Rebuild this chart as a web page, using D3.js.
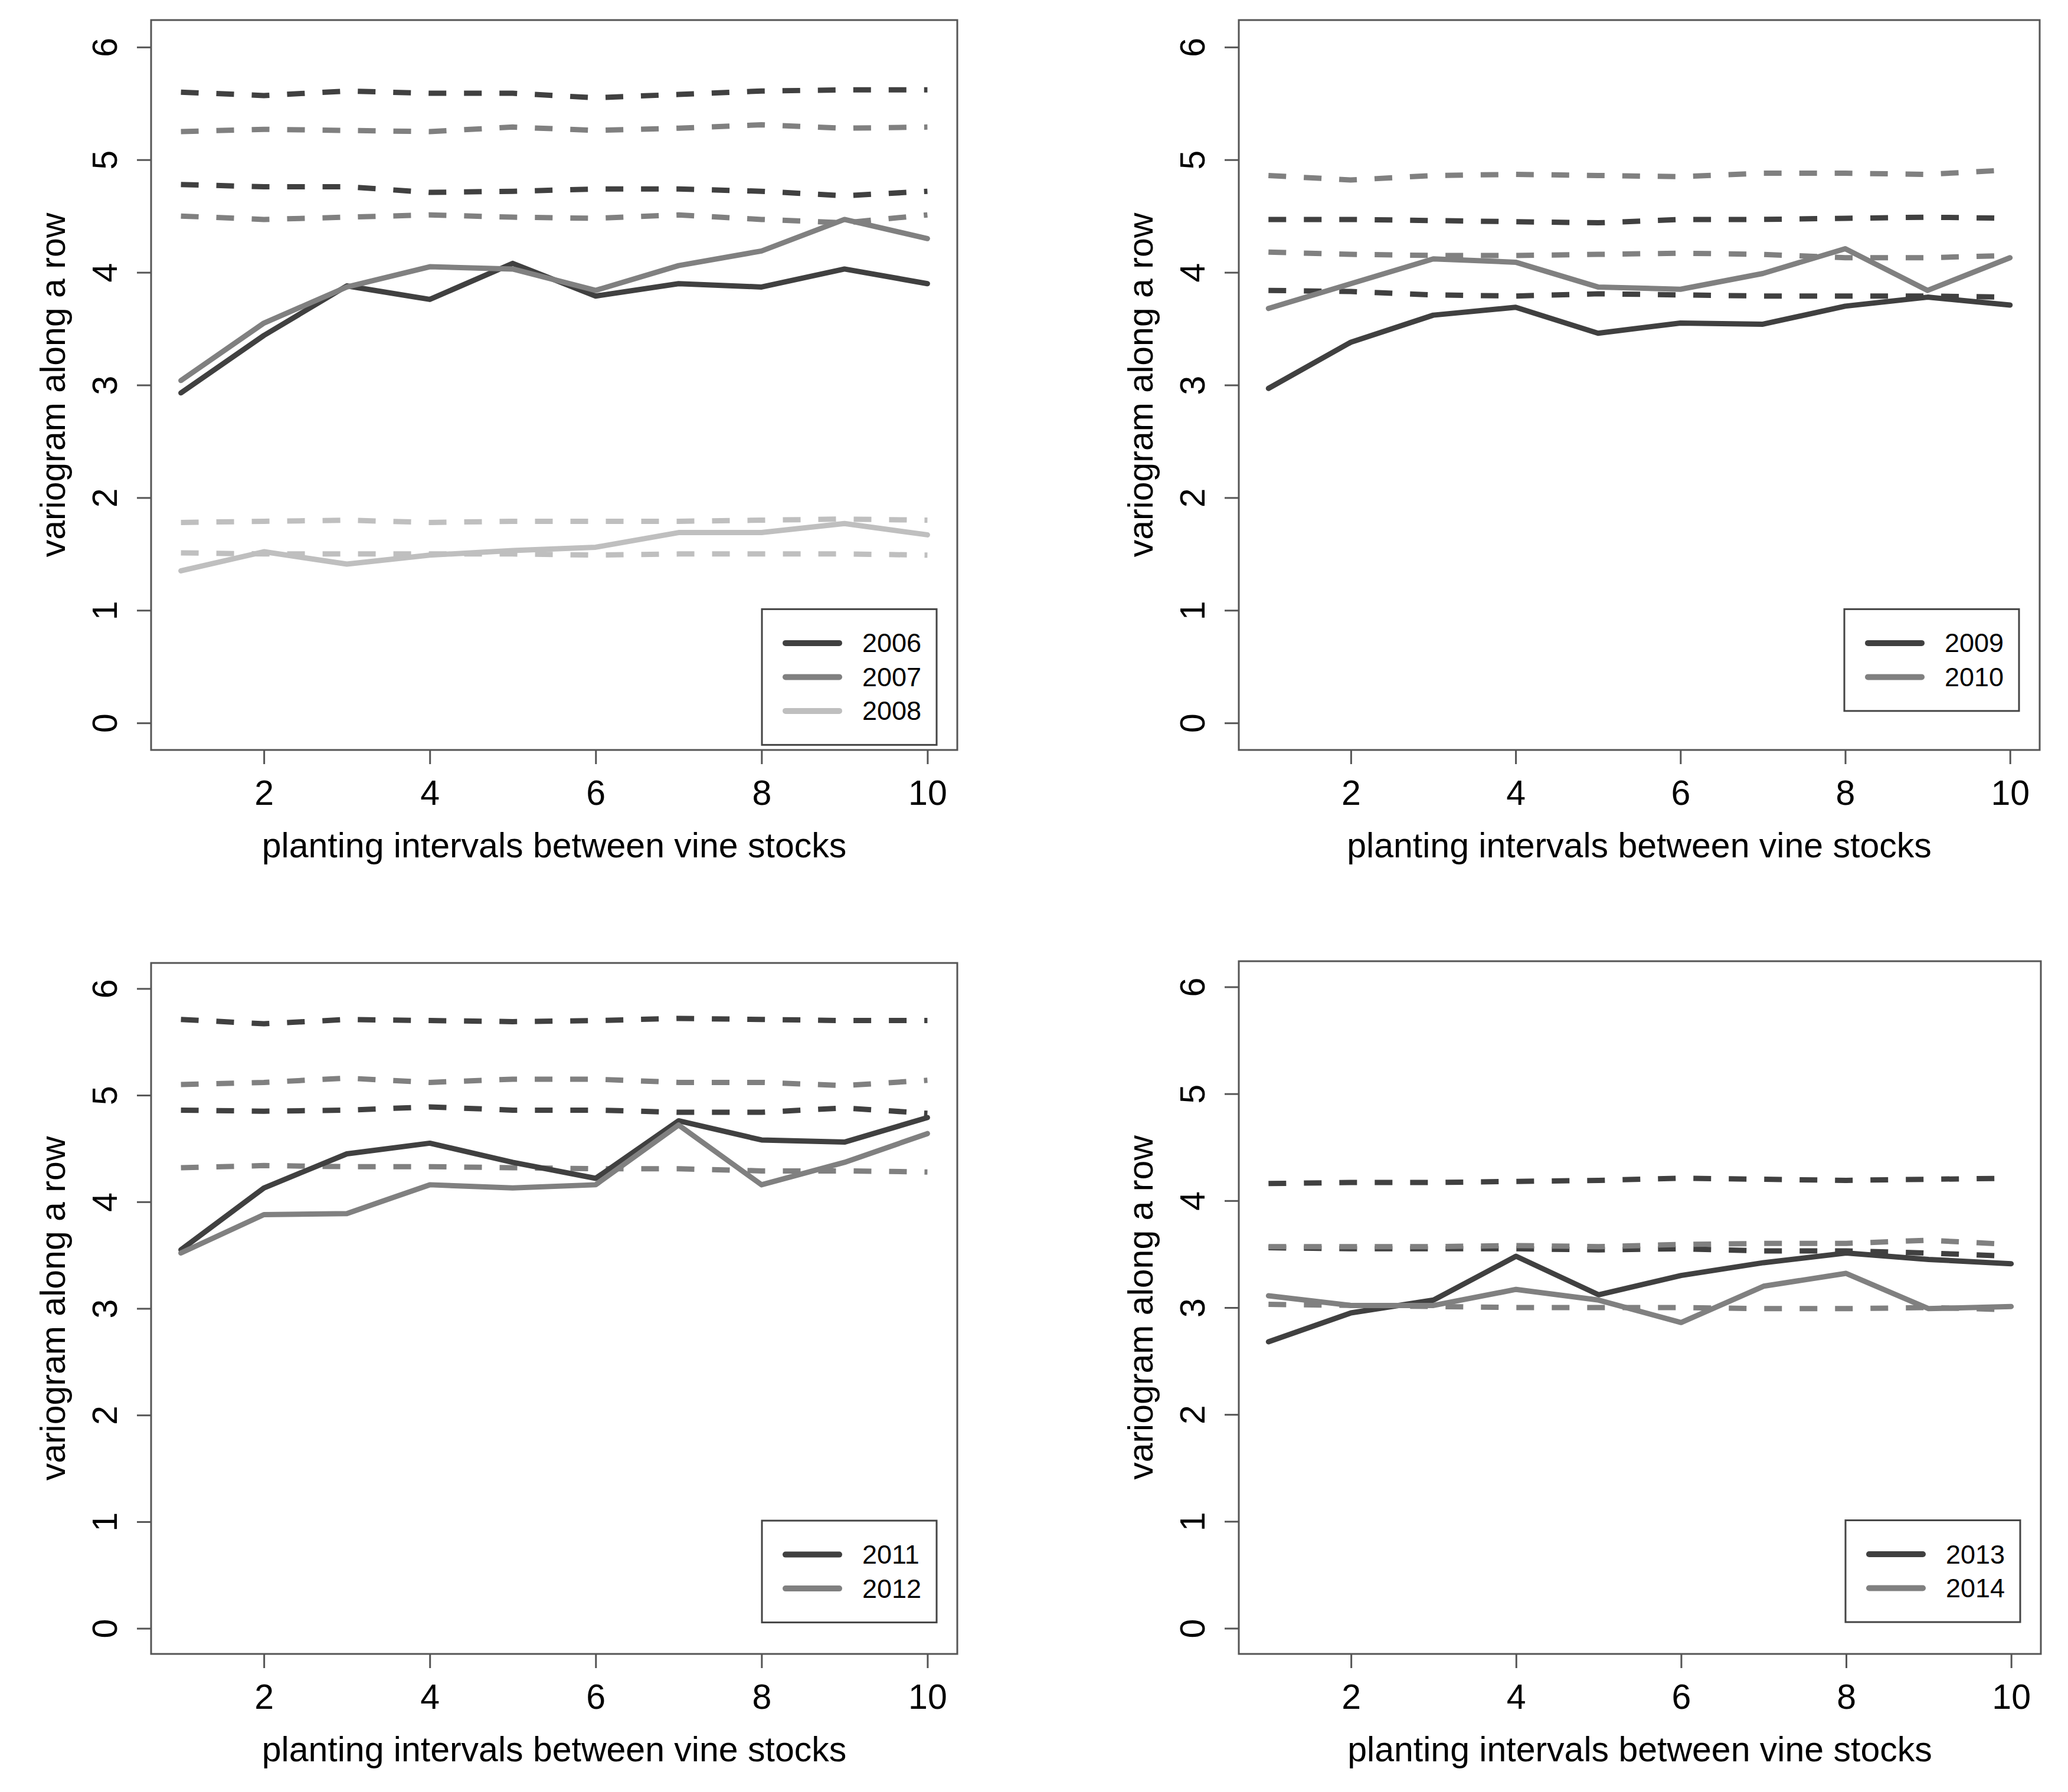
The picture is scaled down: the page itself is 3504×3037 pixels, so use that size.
<!DOCTYPE html>
<html>
<head>
<meta charset="utf-8">
<script src="https://cdn.jsdelivr.net/npm/d3@7"></script>
<style>
  body { margin: 0; background: #fff; }
  text { font-family: "Liberation Sans", Arial, sans-serif; fill: #000; }
</style>
</head>
<body>
<script>
var width = 3504, height = 3037;

// lags (planting intervals) and axis ticks
var lags = [1, 2, 3, 4, 5, 6, 7, 8, 9, 10];
var xTicks = [2, 4, 6, 8, 10];
var yTicks = [0, 1, 2, 3, 4, 5, 6];

var v2006  = [2.93, 3.44, 3.88, 3.76, 4.08, 3.79, 3.90, 3.87, 4.03, 3.90];
var hi2006 = [5.60, 5.57, 5.61, 5.59, 5.59, 5.55, 5.58, 5.61, 5.62, 5.62];
var lo2006 = [4.78, 4.76, 4.76, 4.71, 4.72, 4.74, 4.74, 4.72, 4.68, 4.72];

var v2007  = [3.04, 3.55, 3.87, 4.05, 4.03, 3.84, 4.06, 4.19, 4.47, 4.30];
var hi2007 = [5.25, 5.27, 5.26, 5.25, 5.29, 5.26, 5.28, 5.31, 5.28, 5.29];
var lo2007 = [4.50, 4.47, 4.49, 4.51, 4.49, 4.48, 4.51, 4.47, 4.44, 4.51];

var v2008  = [1.35, 1.52, 1.41, 1.49, 1.53, 1.56, 1.69, 1.69, 1.77, 1.67];
var hi2008 = [1.78, 1.79, 1.80, 1.78, 1.79, 1.79, 1.79, 1.80, 1.81, 1.80];
var lo2008 = [1.51, 1.50, 1.50, 1.50, 1.50, 1.49, 1.50, 1.50, 1.50, 1.49];

var v2009  = [2.97, 3.38, 3.62, 3.69, 3.46, 3.55, 3.54, 3.70, 3.78, 3.71];
var hi2009 = [4.47, 4.47, 4.46, 4.45, 4.44, 4.47, 4.47, 4.48, 4.49, 4.48];
var lo2009 = [3.84, 3.83, 3.80, 3.79, 3.81, 3.80, 3.79, 3.79, 3.79, 3.78];

var v2010  = [3.68, 3.90, 4.12, 4.09, 3.87, 3.85, 3.99, 4.21, 3.84, 4.13];
var hi2010 = [4.86, 4.82, 4.86, 4.87, 4.86, 4.85, 4.88, 4.88, 4.87, 4.91];
var lo2010 = [4.18, 4.16, 4.15, 4.15, 4.16, 4.17, 4.16, 4.13, 4.13, 4.15];

var v2011  = [3.55, 4.13, 4.45, 4.55, 4.37, 4.22, 4.76, 4.58, 4.56, 4.79];
var hi2011 = [5.71, 5.67, 5.71, 5.70, 5.69, 5.70, 5.72, 5.71, 5.70, 5.70];
var lo2011 = [4.86, 4.85, 4.86, 4.89, 4.86, 4.86, 4.84, 4.84, 4.88, 4.83];

var v2012  = [3.52, 3.88, 3.89, 4.16, 4.13, 4.16, 4.72, 4.16, 4.37, 4.64];
var hi2012 = [5.10, 5.12, 5.16, 5.12, 5.15, 5.15, 5.12, 5.12, 5.09, 5.14];
var lo2012 = [4.32, 4.34, 4.33, 4.33, 4.32, 4.31, 4.31, 4.29, 4.29, 4.28];

var v2013  = [2.68, 2.95, 3.07, 3.48, 3.12, 3.30, 3.42, 3.51, 3.45, 3.41];
var hi2013 = [4.16, 4.17, 4.17, 4.18, 4.19, 4.21, 4.20, 4.19, 4.20, 4.21];
var lo2013 = [3.56, 3.55, 3.55, 3.55, 3.54, 3.55, 3.53, 3.53, 3.51, 3.48];

var v2014  = [3.11, 3.02, 3.02, 3.17, 3.07, 2.86, 3.20, 3.32, 2.99, 3.01];
var hi2014 = [3.57, 3.57, 3.57, 3.58, 3.57, 3.59, 3.60, 3.60, 3.63, 3.59];
var lo2014 = [3.03, 3.02, 3.01, 3.00, 3.00, 3.00, 2.99, 2.99, 3.00, 2.98];

var series = {
  "2006": [v2006, lo2006, hi2006],
  "2007": [v2007, lo2007, hi2007],
  "2008": [v2008, lo2008, hi2008],
  "2009": [v2009, lo2009, hi2009],
  "2010": [v2010, lo2010, hi2010],
  "2011": [v2011, lo2011, hi2011],
  "2012": [v2012, lo2012, hi2012],
  "2013": [v2013, lo2013, hi2013],
  "2014": [v2014, lo2014, hi2014]
};

var panelYears = [["2006", "2007", "2008"], ["2009", "2010"], ["2011", "2012"], ["2013", "2014"]];
var greys = ["#404040", "#808080", "#bfbfbf"];

var xLabel = "planting intervals between vine stocks";
var yLabel = "variogram along a row";

// plot boxes in pixels
var panels = [
  {left: 256,  right: 1622, top: 34,   bottom: 1271},
  {left: 2099, right: 3456, top: 34,   bottom: 1271},
  {left: 256,  right: 1622, top: 1632, bottom: 2803},
  {left: 2099, right: 3458, top: 1629, bottom: 2803}
];

var fontSize = 59, legendFont = 45, lineW = 9;

var svg = d3.select("body")
  .append("svg")
  .attr("width", width)
  .attr("height", height);

svg.append("rect")
  .attr("width", width)
  .attr("height", height)
  .attr("fill", "#fff");

function drawPanel(p, yrs) {
  var x = d3.scaleLinear()
    .domain([1 - 0.36, 10 + 0.36])
    .range([p.left, p.right]);

  var y = d3.scaleLinear()
    .domain([-0.24, 6.24])
    .range([p.bottom, p.top]);

  var g = svg.append("g");

  var line = d3.line()
    .x(function(d, i) { return x(lags[i]) })
    .y(function(d) { return y(d) });

  // envelopes
  yrs.forEach(function(yr, k) {
    [series[yr][1], series[yr][2]].forEach(function(arr) {
      g.append("path")
        .datum(arr)
        .attr("d", line)
        .attr("fill", "none")
        .attr("stroke", greys[k])
        .attr("stroke-width", lineW)
        .attr("stroke-dasharray", "30,30")
        .attr("stroke-linejoin", "round");
    });
  });

  // variograms
  yrs.forEach(function(yr, k) {
    g.append("path")
      .datum(series[yr][0])
      .attr("d", line)
      .attr("fill", "none")
      .attr("stroke", greys[k])
      .attr("stroke-width", lineW)
      .attr("stroke-linejoin", "round")
      .attr("stroke-linecap", "round");
  });

  // box
  g.append("rect")
    .attr("x", p.left)
    .attr("y", p.top)
    .attr("width", p.right - p.left)
    .attr("height", p.bottom - p.top)
    .attr("fill", "none")
    .attr("stroke", "#555")
    .attr("stroke-width", 3);

  // axes
  var xAxis = g.append("g")
    .attr("transform", "translate(0," + p.bottom + ")")
    .call(d3.axisBottom(x).tickValues(xTicks).tickFormat(d3.format("d"))
      .tickSize(24).tickSizeOuter(0).tickPadding(27));
  xAxis.select(".domain").remove();
  xAxis.selectAll(".tick line").attr("stroke", "#555").attr("stroke-width", 3);
  xAxis.selectAll(".tick text")
    .attr("font-size", fontSize)
    .attr("font-family", "Liberation Sans, Arial, sans-serif")
    .attr("fill", "#000");

  var yAxis = g.append("g")
    .attr("transform", "translate(" + p.left + ",0)")
    .call(d3.axisLeft(y).tickValues(yTicks).tickFormat(d3.format("d"))
      .tickSize(24).tickSizeOuter(0));
  yAxis.select(".domain").remove();
  yAxis.selectAll(".tick line").attr("stroke", "#555").attr("stroke-width", 3);
  yAxis.selectAll(".tick text")
    .attr("x", null)
    .attr("dy", null)
    .attr("transform", "translate(-78,0) rotate(-90)")
    .attr("text-anchor", "middle")
    .attr("dominant-baseline", "central")
    .attr("font-size", fontSize)
    .attr("font-family", "Liberation Sans, Arial, sans-serif")
    .attr("fill", "#000");

  // axis titles
  g.append("text")
    .attr("x", (p.left + p.right) / 2)
    .attr("y", p.bottom + 162)
    .attr("text-anchor", "middle")
    .attr("dominant-baseline", "central")
    .attr("font-size", fontSize)
    .text(xLabel);

  g.append("text")
    .attr("transform", "translate(" + (p.left - 166) + "," + ((p.top + p.bottom) / 2) + ") rotate(-90)")
    .attr("text-anchor", "middle")
    .attr("dominant-baseline", "central")
    .attr("font-size", fontSize)
    .text(yLabel);

  // legend
  var rowH = 57.5;
  var lx = p.right - 35 - 296;
  var ly = y(1.01);
  var leg = g.append("g").attr("transform", "translate(" + lx + "," + ly + ")");
  leg.append("rect")
    .attr("width", 296)
    .attr("height", rowH * (yrs.length + 1))
    .attr("fill", "#fff")
    .attr("stroke", "#444")
    .attr("stroke-width", 3);
  var rows = leg.selectAll(".row")
    .data(yrs)
    .enter()
    .append("g")
    .attr("class", "row")
    .attr("transform", function(d, i) { return "translate(0," + (rowH * (i + 1)) + ")" });
  rows.append("line")
    .attr("x1", 40)
    .attr("x2", 131)
    .attr("stroke", function(d, i) { return greys[i] })
    .attr("stroke-width", 10)
    .attr("stroke-linecap", "round");
  rows.append("text")
    .attr("x", 170)
    .attr("dominant-baseline", "central")
    .attr("font-size", legendFont)
    .text(function(d) { return d });
}

panels.forEach(function(p, i) {
  drawPanel(p, panelYears[i]);
});
</script>
</body>
</html>
